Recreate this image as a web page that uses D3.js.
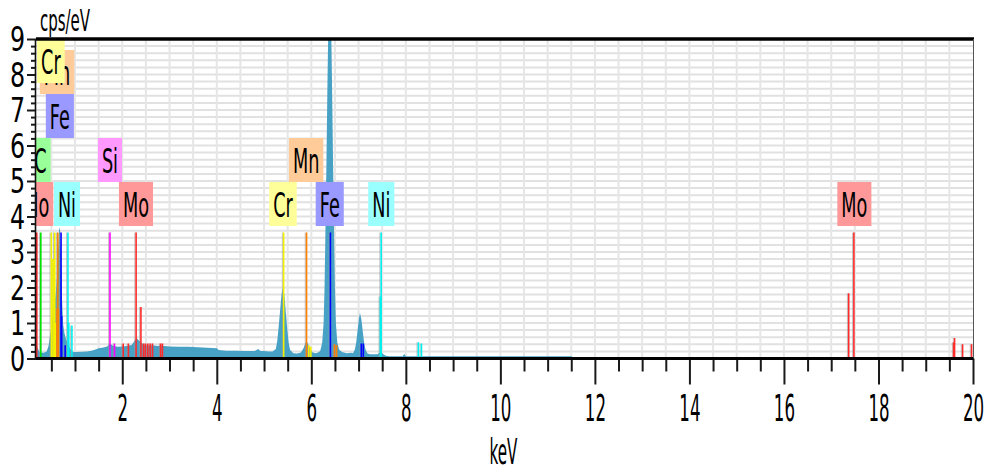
<!DOCTYPE html>
<html>
<head>
<meta charset="utf-8">
<script src="https://cdn.jsdelivr.net/npm/d3@7"></script>
<style>
  html, body { margin: 0; padding: 0; background: #fff; }
  svg { display: block; }
</style>
</head>
<body>
<svg id="chart" width="991" height="474"></svg>
<script>
// EDS spectrum: [energy keV, intensity cps/eV]
const spectrum = [
  [0.175,0.30],[0.19,0.37],[0.21,0.30],[0.24,0.20],[0.28,0.17],[0.34,0.16],[0.40,0.20],
  [0.44,0.35],[0.47,0.62],[0.50,0.90],[0.53,1.20],[0.56,1.50],[0.59,1.80],[0.62,2.30],
  [0.645,3.10],[0.665,3.70],[0.685,3.60],[0.705,2.90],[0.725,1.70],[0.75,0.95],[0.78,0.70],
  [0.81,0.55],[0.84,0.45],[0.87,0.38],[0.90,0.27],[0.94,0.20],[0.98,0.18],
  [1.05,0.18],[1.15,0.19],[1.25,0.20],[1.35,0.22],[1.45,0.26],[1.50,0.29],[1.60,0.31],
  [1.68,0.34],[1.74,0.42],[1.80,0.36],[1.90,0.33],[2.00,0.34],[2.10,0.35],[2.20,0.38],
  [2.26,0.50],[2.30,0.58],[2.34,0.52],[2.40,0.45],[2.46,0.38],[2.55,0.36],[2.65,0.37],
  [2.75,0.35],[2.85,0.36],[3.00,0.34],[3.20,0.33],[3.40,0.33],[3.60,0.32],[3.80,0.30],
  [4.00,0.29],[4.04,0.24],[4.20,0.22],[4.40,0.22],[4.60,0.21],[4.80,0.21],[4.88,0.27],
  [4.92,0.21],[5.00,0.21],[5.10,0.20],[5.18,0.20],
  [5.25,0.27],[5.28,0.50],[5.31,0.90],[5.34,1.35],[5.37,1.80],[5.40,2.00],[5.43,1.80],
  [5.46,1.30],[5.49,0.85],[5.52,0.45],[5.55,0.25],[5.62,0.15],[5.70,0.14],[5.78,0.17],
  [5.84,0.30],[5.88,0.45],[5.91,0.47],[5.94,0.38],[5.98,0.25],[6.03,0.17],[6.10,0.15],
  [6.16,0.18],[6.19,0.22],[6.23,0.45],[6.26,1.00],[6.28,2.00],[6.30,3.70],[6.32,5.50],
  [6.34,7.60],[6.36,9.40],[6.39,10.50],[6.42,9.40],[6.44,7.60],[6.46,5.50],[6.48,3.70],
  [6.50,2.00],[6.52,1.00],[6.55,0.45],[6.59,0.25],[6.65,0.18],[6.75,0.15],[6.85,0.16],
  [6.88,0.15],[6.92,0.25],[6.95,0.45],[6.98,0.80],[7.01,1.15],[7.03,1.28],[7.06,1.10],
  [7.09,0.75],[7.12,0.42],[7.15,0.24],[7.19,0.14],[7.25,0.12],[7.32,0.12],[7.40,0.12],
  [7.45,0.17],[7.48,0.20],[7.52,0.12],[7.58,0.08],[7.65,0.06],[7.80,0.06],[7.93,0.06],
  [7.97,0.13],[8.00,0.06],[8.50,0.06],[9.00,0.06],[9.50,0.06],[10.00,0.06],[10.50,0.06],
  [11.00,0.06],[11.50,0.06],[11.55,0.03],[11.62,0.00],[11.68,0.04],[11.75,0.00],
  [11.90,0.03],[12.00,0.00],[12.20,0.04],[12.30,0.00],[12.50,0.03],[12.60,0.00],
  [12.80,0.03],[12.90,0.00],[20.00,0.00]
];

// Element colours: label box fill and marker line colour
const elements   = ["C", "Mo", "Si", "Cr", "Mn", "Fe", "Ni"];
const boxColors  = ["#99ff99", "#ff9999", "#ff99ff", "#ffff99", "#ffcc99", "#9999ff", "#99ffff"];
const lineColors = ["#00e000", "#ff2a2a", "#ff00ff", "#f2f200", "#ff7f00", "#0000ff", "#00f0f0"];

// Characteristic line markers: [element, energy keV, marker height cps/eV]
const markerLines = [
  ["Mo",0.192,3.55],
  ["C",0.277,3.55],
  ["Cr",0.500,3.55],["Cr",0.535,2.8],["Cr",0.556,2.8],["Cr",0.573,3.55],["Cr",0.583,1.0],
  ["Mn",0.620,1.4],["Mn",0.637,3.55],["Mn",0.649,1.4],
  ["Fe",0.705,3.55],["Fe",0.718,1.2],["Fe",0.792,0.37],
  ["Ni",0.851,3.55],["Ni",0.869,1.0],["Ni",0.935,0.93],
  ["Si",1.740,3.55],["Si",1.836,0.42],
  ["Mo",2.02,0.42],["Mo",2.13,0.42],["Mo",2.293,3.55],["Mo",2.395,1.45],["Mo",2.45,0.42],
  ["Mo",2.49,0.42],["Mo",2.54,0.42],["Mo",2.59,0.42],["Mo",2.64,0.42],["Mo",2.81,0.42],["Mo",2.85,0.42],
  ["Cr",5.415,3.55],["Cr",5.947,0.37],["Cr",5.99,0.33],
  ["Mn",5.899,3.55],["Mn",6.49,0.40],["Mn",6.535,0.38],
  ["Fe",6.404,3.55],["Fe",7.058,0.42],["Fe",7.10,0.42],
  ["Ni",7.461,1.75],["Ni",7.478,3.55],["Ni",8.265,0.46],["Ni",8.33,0.42],
  ["Mo",17.37,1.84],["Mo",17.48,3.55],["Mo",19.59,0.45],["Mo",19.61,0.58],["Mo",19.78,0.40],["Mo",19.97,0.40]
];

// Element labels: [element, anchor energy keV, stacking row]
const labels = [
  ["Mo",0.18,0],["Ni",0.83,0],["Mo",2.29,0],["Cr",5.40,0],["Fe",6.39,0],["Ni",7.48,0],["Mo",17.49,0],
  ["C",0.27,1],["Si",1.74,1],["Mn",5.89,1],
  ["Fe",0.68,2],
  ["Mn",0.62,3],
  ["Cr",0.49,4]
];

const xMajor = [2, 4, 6, 8, 10, 12, 14, 16, 18, 20];
const xMinor = d3.range(1, 40).map(i => i * 0.5).filter(v => v % 2 !== 0);
const yMajor = [0, 1, 2, 3, 4, 5, 6, 7, 8, 9];
const yMinor = d3.range(1, 45).map(i => +(i * 0.2).toFixed(1)).filter(v => v % 1 !== 0);
const xGrid = d3.range(1, 40).map(i => i * 0.5);
const yGrid = d3.range(1, 45).map(i => +(i * 0.2).toFixed(1));

const FONT = "'DejaVu Sans', Verdana, sans-serif";
const L = 36, R = 973, T = 39, B = 358.5;

const svg = d3.select("#chart");
const x = d3.scaleLinear().domain([0.175, 20]).range([L, R]);
const y = d3.scaleLinear().domain([0, 9]).range([B, T]);
const colorOf = d3.scaleOrdinal().domain(elements).range(lineColors);
const boxOf = d3.scaleOrdinal().domain(elements).range(boxColors);

svg.append("defs").append("clipPath").attr("id", "plot")
  .append("rect").attr("x", L).attr("y", T).attr("width", R - L).attr("height", B - T);

// grid
const grid = svg.append("g");
grid.selectAll("line.h").data(yGrid).join("line")
  .attr("x1", L).attr("x2", R).attr("y1", d => y(d)).attr("y2", d => y(d))
  .attr("stroke", "#e1e1e1").attr("stroke-width", 2);
grid.selectAll("line.v").data(xGrid).join("line")
  .attr("x1", d => x(d)).attr("x2", d => x(d)).attr("y1", T).attr("y2", B)
  .attr("stroke", "#e6e6e6").attr("stroke-width", 2);

const plot = svg.append("g").attr("clip-path", "url(#plot)");

// spectrum
const area = d3.area().x(d => x(d[0])).y0(y(0)).y1(d => y(d[1]));
plot.append("path").datum(spectrum).attr("d", area).attr("fill", "#47a1c5");

// line markers
const marks = plot.append("g");
marks.selectAll("line.sh").data(markerLines).join("line")
  .attr("x1", d => x(d[1]) - 1.3).attr("x2", d => x(d[1]) - 1.3)
  .attr("y1", y(0)).attr("y2", d => y(d[2]))
  .attr("stroke", "#9a9a9a").attr("stroke-width", 1).attr("opacity", 0.6);
marks.selectAll("line.mk").data(markerLines).join("line")
  .attr("x1", d => x(d[1])).attr("x2", d => x(d[1]))
  .attr("y1", y(0)).attr("y2", d => y(d[2]))
  .attr("stroke", d => colorOf(d[0])).attr("stroke-width", 1.6);

// element labels
const LBL_SX = 0.52, ROW_H = 44, ROW0_BOTTOM = 226;
const lab = plot.append("g");
labels.forEach(([el, e, row]) => {
  const cx = x(e);
  const bottom = ROW0_BOTTOM - row * ROW_H;
  const top = Math.max(T, bottom - ROW_H);
  const g = lab.append("g");
  const rect = g.append("rect").attr("fill", boxOf(el));
  const t = g.append("text")
    .attr("transform", `translate(${cx},${top + ROW_H - 9}) scale(${LBL_SX},1)`)
    .attr("text-anchor", "middle").attr("font-family", FONT).attr("font-size", 34)
    .attr("fill", "#000").text(el);
  const w = t.node().getComputedTextLength() * LBL_SX + 8;
  rect.attr("x", cx - w / 2).attr("y", top).attr("width", w).attr("height", ROW_H);
});

// x axis
const gx = svg.append("g").attr("transform", `translate(0,${B})`)
  .call(d3.axisBottom(x).tickValues(xMajor).tickSize(26).tickPadding(10).tickFormat(d3.format("d")));
gx.select(".domain").remove();
gx.selectAll(".tick line").attr("stroke", "#1a1a1a").attr("stroke-width", 2);
gx.selectAll(".tick text").attr("font-family", FONT).attr("font-size", 37)
  .attr("fill", "#000").attr("transform", "scale(0.45,1)");
const gxm = svg.append("g").attr("transform", `translate(0,${B})`)
  .call(d3.axisBottom(x).tickValues(xMinor).tickSize(13).tickFormat(""));
gxm.select(".domain").remove();
gxm.selectAll(".tick line").attr("stroke", "#1a1a1a").attr("stroke-width", 2);

// y axis
const Y_SX = 0.72;
const gy = svg.append("g").attr("transform", `translate(${L},0)`)
  .call(d3.axisLeft(y).tickValues(yMajor).tickSize(9).tickPadding(2).tickFormat(d3.format("d")));
gy.select(".domain").remove();
gy.selectAll(".tick line").attr("stroke", "#1a1a1a").attr("stroke-width", 2);
gy.selectAll(".tick text").attr("font-family", FONT).attr("font-size", 33).attr("fill", "#000")
  .attr("x", -11 / Y_SX).attr("dy", "0.36em").attr("transform", `scale(${Y_SX},1)`);
const gym = svg.append("g").attr("transform", `translate(${L},0)`)
  .call(d3.axisLeft(y).tickValues(yMinor).tickSize(5).tickFormat(""));
gym.select(".domain").remove();
gym.selectAll(".tick line").attr("stroke", "#1a1a1a").attr("stroke-width", 2);

// frame
svg.append("line").attr("x1", L).attr("x2", R + 1).attr("y1", T).attr("y2", T)
  .attr("stroke", "#000").attr("stroke-width", 3.4);
svg.append("line").attr("x1", L).attr("x2", R + 1).attr("y1", B).attr("y2", B)
  .attr("stroke", "#000").attr("stroke-width", 3);
svg.append("line").attr("x1", L - 0.5).attr("x2", L - 0.5).attr("y1", T).attr("y2", B + 1)
  .attr("stroke", "#111").attr("stroke-width", 1.6);
svg.append("line").attr("x1", R + 0.5).attr("x2", R + 0.5).attr("y1", T).attr("y2", B)
  .attr("stroke", "#555").attr("stroke-width", 1);

// axis titles
svg.append("text").attr("transform", "translate(40,31) scale(0.5,1)")
  .attr("font-family", FONT).attr("font-size", 30).attr("fill", "#000").text("cps/eV");
svg.append("text").attr("transform", "translate(503.5,464) scale(0.42,1)")
  .attr("text-anchor", "middle").attr("font-family", FONT).attr("font-size", 36)
  .attr("fill", "#000").text("keV");
</script>
</body>
</html>
